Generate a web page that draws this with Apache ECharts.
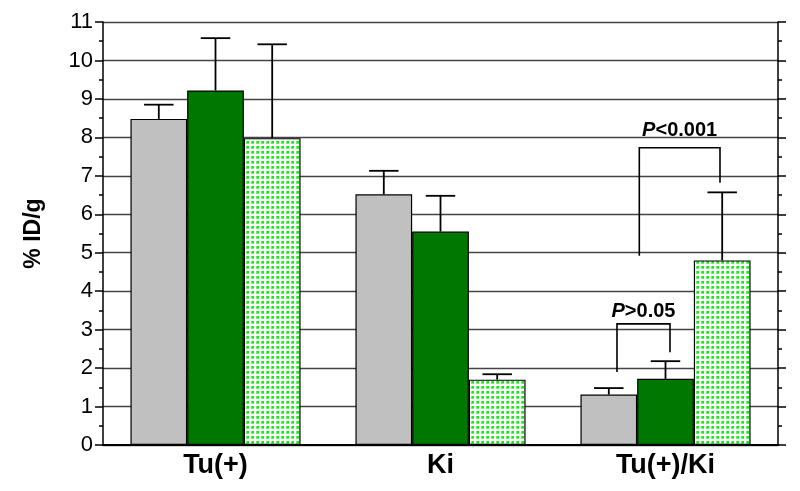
<!DOCTYPE html>
<html>
<head>
<meta charset="utf-8">
<script src="https://cdn.jsdelivr.net/npm/echarts@6/dist/echarts.min.js"></script>
<style>html,body{margin:0;padding:0;background:#fff;}#c{width:800px;height:491px;}</style>
</head>
<body>
<div id="c"></div>
<script>
var categories = ['Tu(+)', 'Ki', 'Tu(+)/Ki'];
var grayVals  = [8.48, 6.52, 1.31];
var grayErr   = [8.85, 7.13, 1.48];
var greenVals = [9.22, 5.55, 1.72];
var greenErr  = [10.58, 6.48, 2.18];
var dotVals   = [7.98, 1.70, 4.80];
var dotErr    = [10.42, 1.84, 6.57];
var yTicks = [0,1,2,3,4,5,6,7,8,9,10,11];
// brackets: [category, leftOffset, rightOffset, leftBottom, rightBottom, top, labelY, label]
var brackets = [
  [2, -0.2156, 0.020, 1.90, 2.41, 3.15, 3.46, '>0.05'],
  [2, -0.1164, 0.2422, 4.92, 6.82, 7.73, 8.18, '<0.001']
];

var FONT = '"Liberation Sans", Arial, sans-serif';
var GAP = 0.244;

function makePattern() {
  var c = document.createElement('canvas');
  c.width = 5; c.height = 5;
  var ctx = c.getContext('2d');
  ctx.fillStyle = '#ffffff';
  ctx.fillRect(0, 0, 5, 5);
  ctx.fillStyle = '#66f266';
  ctx.fillRect(1, 1, 3, 3);
  ctx.fillStyle = '#10ee10';
  ctx.fillRect(2, 1, 2, 2);
  return c;
}

var errData = [];
[grayVals, greenVals, dotVals].forEach(function (vals, s) {
  var errs = [grayErr, greenErr, dotErr][s];
  for (var i = 0; i < vals.length; i++) errData.push([i, s, vals[i], errs[i]]);
});

var chart = echarts.init(document.getElementById('c'), null, {renderer: 'canvas'});
var barStyle = function (color) {
  return {color: color, borderColor: '#000', borderWidth: 1.2};
};
chart.setOption({
  animation: false,
  grid: {left: 103, right: 22, top: 22, bottom: 46},
  xAxis: [{
    type: 'category', data: categories,
    axisLine: {show: true, lineStyle: {color: '#000', width: 1.5}},
    axisTick: {show: false},
    axisLabel: {fontFamily: FONT, fontWeight: 'bold', fontSize: 27, color: '#000', margin: 7}
  }, {
    type: 'category', data: categories, position: 'top',
    axisLine: {show: true, lineStyle: {color: '#000', width: 1.8}},
    axisTick: {show: false}, axisLabel: {show: false}
  }],
  yAxis: [{
    type: 'value', min: 0, max: 11, interval: 1,
    name: '% ID/g', nameLocation: 'middle', nameGap: 58, nameRotate: 90,
    nameTextStyle: {fontFamily: FONT, fontWeight: 'bold', fontSize: 23, color: '#000'},
    axisLine: {show: true, lineStyle: {color: '#000', width: 1.5}},
    axisTick: {show: true, inside: false, length: 8, lineStyle: {color: '#000', width: 1.5}},
    minorTick: {show: true, splitNumber: 2, length: 4, lineStyle: {color: '#000', width: 1.5}},
    axisLabel: {fontFamily: FONT, fontSize: 22, color: '#000', margin: 10,
      formatter: function (v) { return yTicks.indexOf(v) >= 0 ? String(v) : ''; }},
    splitLine: {show: true, lineStyle: {color: '#444', width: 1.3}}
  }, {
    type: 'value', min: 0, max: 11, interval: 1, position: 'right',
    axisLine: {show: true, lineStyle: {color: '#000', width: 1.5}},
    axisTick: {show: true, inside: false, length: 8, lineStyle: {color: '#000', width: 1.5}},
    minorTick: {show: true, splitNumber: 2, length: 4, lineStyle: {color: '#000', width: 1.5}},
    axisLabel: {show: false}, splitLine: {show: false}
  }],
  series: [
    {type: 'bar', data: grayVals, barGap: '0%', barCategoryGap: (GAP * 100) + '%', itemStyle: barStyle('#c0c0c0'), z: 2},
    {type: 'bar', data: greenVals, barGap: '0%', barCategoryGap: (GAP * 100) + '%', itemStyle: barStyle('#007800'), z: 2},
    {type: 'bar', data: dotVals, barGap: '0%', barCategoryGap: (GAP * 100) + '%',
      itemStyle: barStyle({image: makePattern(), repeat: 'repeat'}), z: 2},
    {
      type: 'custom', data: errData, z: 3,
      encode: {x: 0, y: 3},
      renderItem: function (params, api) {
        var cat = api.value(0), s = api.value(1);
        var catW = api.size([1, 0])[0];
        var barW = catW * (1 - GAP) / 3;
        var x = api.coord([cat, 0])[0] + (s - 1) * barW;
        var yb = api.coord([cat, api.value(2)])[1];
        var yt = api.coord([cat, api.value(3)])[1];
        var half = barW * 0.26;
        var st = {stroke: '#000', lineWidth: 1.8};
        return {type: 'group', children: [
          {type: 'line', shape: {x1: x, y1: yb, x2: x, y2: yt}, style: st},
          {type: 'line', shape: {x1: x - half, y1: yt, x2: x + half, y2: yt}, style: st}
        ]};
      }
    },
    {
      type: 'custom', data: brackets, z: 4,
      encode: {x: 0, y: 5},
      renderItem: function (params, api) {
        var cat = api.value(0);
        var catW = api.size([1, 0])[0];
        var cx = api.coord([cat, 0])[0];
        var xl = cx + api.value(1) * catW;
        var xr = cx + api.value(2) * catW;
        var yl = api.coord([cat, api.value(3)])[1];
        var yr = api.coord([cat, api.value(4)])[1];
        var yt = api.coord([cat, api.value(5)])[1];
        var ylab = api.coord([cat, api.value(6)])[1];
        var st = {stroke: '#000', lineWidth: 1.6, fill: null};
        return {type: 'group', children: [
          {type: 'polyline', shape: {points: [[xl, yl], [xl, yt], [xr, yt], [xr, yr]]}, style: st},
          {type: 'text', x: (xl + xr) / 2, y: ylab, style: {
            text: '{i|P}{n|' + brackets[params.dataIndex][7] + '}',
            align: 'center', verticalAlign: 'middle',
            rich: {
              i: {fontFamily: FONT, fontWeight: 'bold', fontStyle: 'italic', fontSize: 20, fill: '#000'},
              n: {fontFamily: FONT, fontWeight: 'bold', fontSize: 20, fill: '#000'}
            }
          }}
        ]};
      }
    }
  ]
});
</script>
</body>
</html>
